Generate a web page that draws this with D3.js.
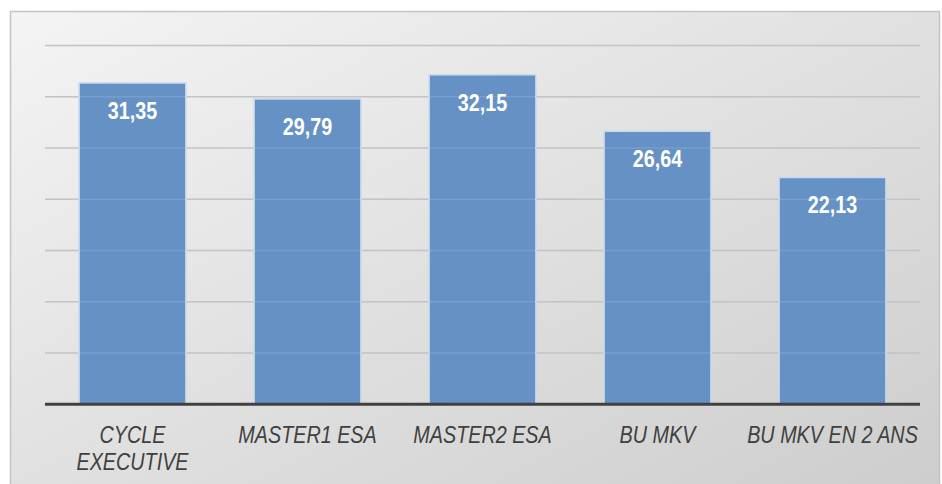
<!DOCTYPE html>
<html><head><meta charset="utf-8">
<script src="https://cdn.jsdelivr.net/npm/d3@7"></script>
<style>body{margin:0;background:#fff}svg{display:block}</style>
</head><body><svg id="c" width="942" height="484"></svg>
<script>
const categories = ["CYCLE EXECUTIVE", "MASTER1 ESA", "MASTER2 ESA", "BU MKV", "BU MKV EN 2 ANS"];
const categoryLines = [["CYCLE", "EXECUTIVE"], ["MASTER1 ESA"], ["MASTER2 ESA"], ["BU MKV"], ["BU MKV EN 2 ANS"]];
const values = [31.35, 29.79, 32.15, 26.64, 22.13];
const labels = ["31,35", "29,79", "32,15", "26,64", "22,13"];
const yTicks = [0, 5, 10, 15, 20, 25, 30, 35];

const svg = d3.select("#c");
const defs = svg.append("defs");
const g = defs.append("linearGradient").attr("id","bg").attr("x1","0").attr("y1","0").attr("x2","1").attr("y2","1");
g.append("stop").attr("offset","0").attr("stop-color","#f4f4f4");
g.append("stop").attr("offset","1").attr("stop-color","#cdcdcd");
svg.append("rect").attr("x",10.5).attr("y",11.5).attr("width",929).attr("height",480)
  .attr("fill","url(#bg)").attr("stroke","#c4c4c4").attr("stroke-width",1.5);

const x = d3.scaleBand().domain(categories).range([45, 920]).paddingInner(0.39).paddingOuter(0.195);
const y = d3.scaleLinear().domain([0, 35]).range([404.3, 45.6]);

svg.append("g").selectAll("line").data(yTicks.filter(d=>d>0)).join("line")
  .attr("x1",45).attr("x2",920).attr("y1",d=>y(d)).attr("y2",d=>y(d))
  .attr("stroke","#bcbcbc").attr("stroke-width",1.5);

svg.append("g").selectAll("rect").data(values).join("rect")
  .attr("x",(d,i)=>x(categories[i])).attr("width",x.bandwidth())
  .attr("y",d=>y(d)).attr("height",d=>y(0)-y(d))
  .attr("fill","#6591c5").attr("stroke","#c9d8ec").attr("stroke-width",1.5);

// faint gridlines showing through bars
svg.append("g").selectAll("line").data(yTicks.filter(d=>d>0)).join("line")
  .attr("x1",45).attr("x2",920).attr("y1",d=>y(d)).attr("y2",d=>y(d))
  .attr("stroke","#ffffff").attr("stroke-opacity",0.12).attr("stroke-width",1.5);

svg.append("line").attr("x1",45).attr("x2",920).attr("y1",y(0)).attr("y2",y(0))
  .attr("stroke","#404040").attr("stroke-width",3);

const font = "'Liberation Sans Narrow','Arial Narrow','Liberation Sans',sans-serif";
svg.append("g").selectAll("text").data(values).join("text")
  .attr("transform",(d,i)=>`translate(${x(categories[i])+x.bandwidth()/2},${y(d)+36}) scale(0.84,1)`)
  .attr("text-anchor","middle").attr("fill","#fff").attr("font-weight","bold")
  .attr("font-family",font).attr("font-size",23.5).text((d,i)=>labels[i]);

const xl = svg.append("g");
categoryLines.forEach((lines,i)=>{
  const cx = x(categories[i])+x.bandwidth()/2;
  lines.forEach((l,j)=>xl.append("text")
    .attr("transform",`translate(${cx},${443+j*27}) scale(0.86,1)`)
    .attr("text-anchor","middle").attr("fill","#404040").attr("font-style","italic")
    .attr("font-family",font).attr("font-size",23).text(l));
});
</script></body></html>
